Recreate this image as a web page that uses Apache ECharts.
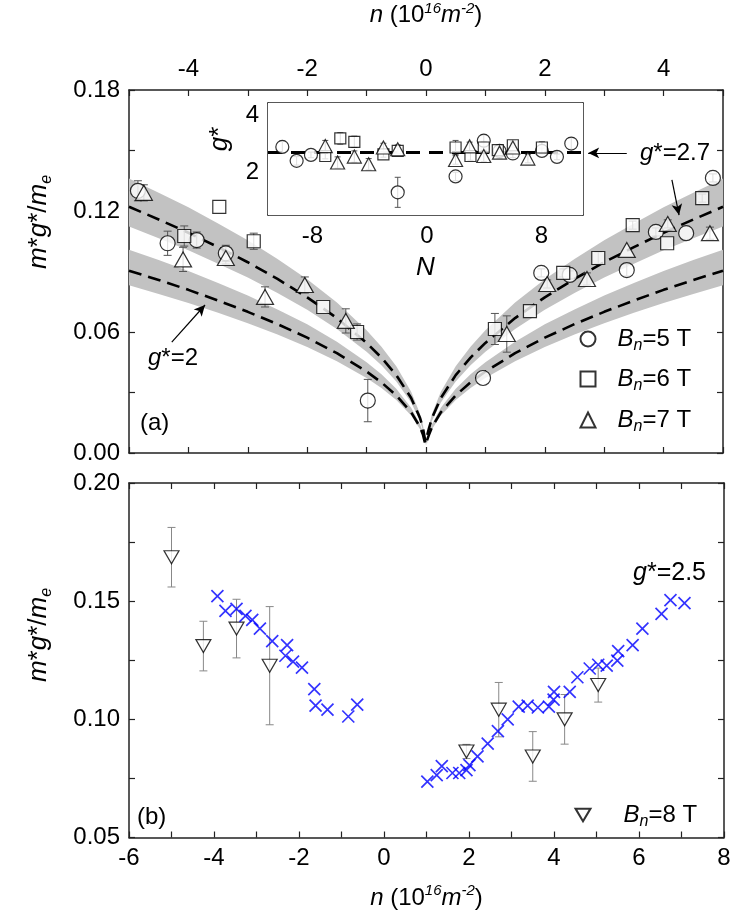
<!DOCTYPE html>
<html><head><meta charset="utf-8">
<script src="https://cdn.jsdelivr.net/npm/echarts@6/dist/echarts.min.js"></script>
<style>html,body{margin:0;padding:0;background:#fff}#c{width:747px;height:911px}</style>
</head><body><div id="c"></div>
<script>
// ---------------- DATA ----------------
// tick labels / tick positions
const topXLabels = [-4, -2, 0, 2, 4];
const topXTicks = [-5, -4, -3, -2, -1, 0, 1, 2, 3, 4, 5];
const topYLabels = [0, 0.06, 0.12, 0.18];
const topYTicks = [0, 0.03, 0.06, 0.09, 0.12, 0.15, 0.18];
const insetXLabels = [-8, 0, 8];
const insetXTicks = [-8, -4, 0, 4, 8];
const insetYLabels = [2, 4];
const insetYTicks = [1, 2, 3, 4];
const botXLabels = [-6, -4, -2, 0, 2, 4, 6, 8];
const botXTicks = [-6, -5, -4, -3, -2, -1, 0, 1, 2, 3, 4, 5, 6, 7, 8];
const botYLabels = [0.05, 0.10, 0.15, 0.20];
const botYTicks = [0.05, 0.075, 0.10, 0.125, 0.15, 0.175, 0.20];

// model curves, |n| in 1e16 m^-2
const curveN   = [0.01, 0.05, 0.1, 0.25, 0.5, 0.75, 1, 1.5, 2, 2.5, 3, 3.5, 4, 4.5, 5];
const g27Curve = [0.0055, 0.0122, 0.0173, 0.0273, 0.0386, 0.0473, 0.0546, 0.0669, 0.0772, 0.0863, 0.0946, 0.1021, 0.1092, 0.1158, 0.1221];
const g27Lo    = [0.0051, 0.0112, 0.0159, 0.0251, 0.0355, 0.0435, 0.0502, 0.0615, 0.0710, 0.0794, 0.0870, 0.0939, 0.1005, 0.1065, 0.1123];
const g27Hi    = [0.0061, 0.0136, 0.0193, 0.0304, 0.0430, 0.0527, 0.0609, 0.0746, 0.0861, 0.0962, 0.1055, 0.1138, 0.1218, 0.1291, 0.1361];
const g2Curve  = [0.0041, 0.0090, 0.0128, 0.0202, 0.0286, 0.0350, 0.0404, 0.0495, 0.0572, 0.0639, 0.0700, 0.0756, 0.0809, 0.0858, 0.0904];
const g2Lo     = [0.0038, 0.0083, 0.0118, 0.0186, 0.0263, 0.0322, 0.0372, 0.0455, 0.0526, 0.0588, 0.0644, 0.0696, 0.0744, 0.0789, 0.0832];
const g2Hi     = [0.0046, 0.0100, 0.0143, 0.0225, 0.0319, 0.0390, 0.0450, 0.0552, 0.0638, 0.0712, 0.0781, 0.0843, 0.0902, 0.0957, 0.1008];

// panel (a): [n, m*g*/me, error]
const b5Top = [[-4.85,0.130,0.005],[-4.35,0.104,0.006],[-3.86,0.1056,0.004],[-3.37,0.099,0.004],[-0.98,0.026,0.0105],
  [0.96,0.0372,0],[1.94,0.0893,0.002],[2.42,0.0883,0.002],[3.38,0.0907,0.003],[3.87,0.1096,0.002],[4.38,0.109,0],[4.83,0.1364,0.002]];
const b6Top = [[-4.07,0.1076,0.005],[-3.48,0.122,0],[-2.9,0.105,0.004],[-1.73,0.0724,0],[-1.16,0.060,0.004],
  [1.16,0.0615,0.0077],[1.75,0.0704,0],[2.31,0.0893,0.002],[2.9,0.0967,0.003],[3.48,0.113,0.002],[4.06,0.104,0],[4.65,0.1264,0.002]];
const b7Top = [[-4.75,0.129,0.004],[-4.09,0.096,0.006],[-3.37,0.0967,0.003],[-2.71,0.0774,0.005],[-2.04,0.0833,0.004],[-1.35,0.0655,0.006],
  [1.36,0.059,0.009],[2.04,0.0838,0.002],[2.71,0.0863,0.003],[3.38,0.1007,0],[4.07,0.1136,0.002],[4.78,0.109,0.003]];

// inset: [N, g*, error]
const in5 = [[-10.1,2.90,0.2],[-9.1,2.41,0.15],[-8.1,2.62,0.1],[-2.04,1.30,0.53],[2.0,1.86,0.15],[3.97,3.12,0.2],
  [5.07,2.76,0.1],[6.0,2.67,0.15],[8.03,2.76,0.1],[9.08,2.55,0.1],[10.08,3.02,0.2]];
const in6 = [[-7.1,2.58,0.1],[-6.05,3.2,0.2],[-5.07,3.08,0.2],[-3.04,2.64,0.1],[-2.04,2.76,0.1],[2.0,2.88,0.25],
  [3.04,2.58,0.15],[3.97,2.88,0.2],[4.95,2.79,0.1],[6.0,2.96,0.15],[8.03,2.88,0.2]];
const in7 = [[-7.1,2.93,0.2],[-6.24,2.35,0.2],[-5.07,2.56,0.2],[-4.07,2.29,0.2],[-3.04,2.88,0.15],[-2.04,2.82,0.15],
  [2.0,2.44,0.15],[2.98,2.92,0.15],[3.97,2.58,0.2],[5.07,2.7,0.2],[6.0,2.88,0.15],[7.05,2.49,0.15]];
const insetGLine = 2.7;
const insetNRange = [-11.1, 10.9];

// panel (b)
const b8Bot = [[-5.0,0.1686,0.0126],[-4.25,0.131,0.0105],[-3.47,0.1384,0.0124],[-2.69,0.1227,0.025],
  [1.94,0.0864,0.003],[2.7,0.1041,0.0115],[3.5,0.0843,0.0105],[4.25,0.100,0.0105],[5.04,0.1145,0.0072]];
const g25Left = [[-3.92,0.1521],[-3.73,0.1459],[-3.47,0.1467],[-3.26,0.1438],[-3.1,0.1421],[-2.92,0.1384],[-2.63,0.1331],
  [-2.28,0.1314],[-2.32,0.1269],[-2.14,0.1244],[-1.93,0.1219],[-1.64,0.1128],[-1.61,0.1058],[-1.33,0.1041],[-0.84,0.1012],[-0.63,0.1062]];
const g25Right = [[1.02,0.0736],[1.24,0.0764],[1.36,0.0802],[1.61,0.0773],[1.77,0.0773],[1.94,0.0785],[2.01,0.0806],[2.2,0.0843],
  [2.44,0.0897],[2.68,0.0950],[2.91,0.1000],[3.17,0.1054],[3.38,0.1058],[3.62,0.1050],[3.88,0.1054],[3.99,0.1083],[4.0,0.1116],
  [4.37,0.1116],[4.55,0.1178],[4.84,0.1215],[5.04,0.1231],[5.24,0.1227],[5.49,0.1248],[5.51,0.1289],[5.85,0.1314],[6.08,0.1384],
  [6.53,0.1446],[6.74,0.1504],[7.07,0.1492]];

// annotation arrows in data coordinates of panel (a): [from, to]
const arrowInset = [[3.38,0.1488],[2.73,0.1488]];
const arrowG27   = [[4.14,0.1354],[4.26,0.118]];
const arrowG2    = [[-4.28,0.055],[-3.72,0.0734]];

// ---------------- STYLE / BUILD ----------------
const FONT = "'Liberation Sans', Arial, Helvetica, sans-serif";
const AX = '#222';
const chart = echarts.init(document.getElementById('c'), null, {renderer:'canvas'});

function mirror(nArr, vArr){
  const out = [];
  for (let i = nArr.length-1; i >= 0; i--) out.push([-nArr[i], vArr[i]]);
  for (let i = 0; i < nArr.length; i++) out.push([nArr[i], vArr[i]]);
  return out;
}
function bandSeries(lo, hi){
  return {
    type:'custom', xAxisIndex:0, yAxisIndex:0, z:1, silent:true, clip:true,
    data: curveN.map((n,i)=>[n, lo[i], hi[i]]),
    encode:{x:0, y:[1,2]},
    renderItem: function(params, api){
      if (params.dataIndex !== 0) return null;
      const children = [];
      [1,-1].forEach(sg=>{
        const pts = [];
        for (let i=0;i<curveN.length;i++) pts.push(api.coord([sg*curveN[i], hi[i]]));
        for (let i=curveN.length-1;i>=0;i--) pts.push(api.coord([sg*curveN[i], lo[i]]));
        children.push({type:'polygon', shape:{points:pts}, style:{fill:'#c2c2c2'}});
      });
      return {type:'group', children};
    }
  };
}
function errSeries(data, xi, yi, color, cap){
  return {
    type:'custom', xAxisIndex:xi, yAxisIndex:yi, z:3, silent:true,
    data: data, encode:{x:0, y:1},
    renderItem: function(params, api){
      const x = api.value(0), y = api.value(1), e = api.value(2);
      if (!e) return null;
      const t = api.coord([x, y+e]), b = api.coord([x, y-e]);
      const st = {stroke:color, lineWidth:1};
      return {type:'group', children:[
        {type:'line', shape:{x1:t[0],y1:t[1],x2:b[0],y2:b[1]}, style:st},
        {type:'line', shape:{x1:t[0]-cap,y1:t[1],x2:t[0]+cap,y2:t[1]}, style:st},
        {type:'line', shape:{x1:b[0]-cap,y1:b[1],x2:b[0]+cap,y2:b[1]}, style:st}
      ]};
    }
  };
}
const openStyle = {color:'#fff', borderColor:'#000', borderWidth:1.2};
function scatter(name, data, xi, yi, symbol, size){
  return {type:'scatter', name, xAxisIndex:xi, yAxisIndex:yi, z:4, symbol, symbolSize:size,
    data: data.map(d=>[d[0], d[1]]), itemStyle: openStyle, emphasis:{disabled:true}};
}
function xAxis(grid, pos, min, max, ticks, labels, extra){
  return Object.assign({
    type:'value', gridIndex:grid, position:pos, min, max,
    axisLine:{show:true, onZero:false, lineStyle:{color:AX, width:1.5}},
    axisTick:{show:true, inside:true, length:6, customValues:ticks, lineStyle:{color:AX, width:1.2}},
    axisLabel: labels ? {show:true, customValues:labels, fontFamily:FONT, fontSize:24, color:'#000', margin:9} : {show:false},
    splitLine:{show:false}
  }, extra||{});
}
function yAxis(grid, pos, min, max, ticks, labels, fmt, extra){
  return Object.assign({
    type:'value', gridIndex:grid, position:pos, min, max,
    axisLine:{show:true, onZero:false, lineStyle:{color:AX, width:1.5}},
    axisTick:{show:true, inside:true, length:6, customValues:ticks, lineStyle:{color:AX, width:1.2}},
    axisLabel: labels ? {show:true, customValues:labels, formatter:fmt, fontFamily:FONT, fontSize:24, color:'#000', margin:9} : {show:false},
    splitLine:{show:false}
  }, extra||{});
}
const nameRich = {
  i:{fontFamily:FONT, fontSize:24, fontStyle:'italic', color:'#000'},
  r:{fontFamily:FONT, fontSize:24, color:'#000'},
  sup:{fontFamily:FONT, fontSize:15, fontStyle:'italic', color:'#000', padding:[0,0,14,0]},
  sub:{fontFamily:FONT, fontSize:15, fontStyle:'italic', color:'#000', padding:[14,0,0,0]}
};
const yRich = {
  i:{fontFamily:FONT, fontSize:26, fontStyle:'italic', color:'#000'},
  r:{fontFamily:FONT, fontSize:26, color:'#000'},
  sub:{fontFamily:FONT, fontSize:16, fontStyle:'italic', color:'#000', padding:[15,0,0,0]}
};
const nTitle = '{i|n}{r| (10}{sup|16}{i|m}{sup|-2}{r|)}';
const fmt2 = v => v.toFixed(2);

function legendFmt(name){ return '{i|B}{s|n}{r|' + name.slice(2) + '}'; }
function legendRich(gap){
  return {
    i:{fontFamily:FONT, fontSize:24, fontStyle:'italic', color:'#000', padding:[0,0,0,gap]},
    s:{fontFamily:FONT, fontSize:16, fontStyle:'italic', color:'#000', padding:[14,0,0,0]},
    r:{fontFamily:FONT, fontSize:24, color:'#000'}
  };
}
function legend(name, left, top, gap){
  return {data:[name], left, top, orient:'vertical', itemWidth:15, itemHeight:15, selectedMode:false,
    padding:0, formatter:legendFmt, textStyle:{rich:legendRich(gap)}};
}
function arrowLine(a){
  return [{coord:a[0], symbol:'none'}, {coord:a[1], symbol:'arrow', symbolSize:[8,11]}];
}
const downTri = 'path://M0,0L20,0L10,17Z';
const cross = 'path://M0,0L10,10M0,10L10,0';

const option = {
  animation:false,
  backgroundColor:'#fff',
  grid:[
    {left:129, top:90, width:594, height:363},
    {left:268, top:103, width:315, height:112, show:true, backgroundColor:'#fff', borderWidth:0, z:5},
    {left:129, top:483, width:595, height:363}
  ],
  xAxis:[
    xAxis(0,'bottom',-5,5,topXTicks,null),
    xAxis(0,'top',-5,5,topXTicks,topXLabels,{name:nTitle, nameLocation:'middle', nameGap:60, nameTextStyle:{rich:nameRich}}),
    xAxis(1,'bottom',insetNRange[0],insetNRange[1],insetXTicks,insetXLabels,{name:'{i|N}', nameLocation:'middle', nameGap:40, nameTextStyle:{rich:{i:{fontFamily:FONT,fontSize:26,fontStyle:'italic',color:'#000'}}}}),
    xAxis(1,'top',insetNRange[0],insetNRange[1],insetXTicks,null),
    xAxis(2,'bottom',-6,8,botXTicks,botXLabels,{name:nTitle, nameLocation:'middle', nameGap:46, nameTextStyle:{rich:nameRich}}),
    xAxis(2,'top',-6,8,botXTicks,null)
  ],
  yAxis:[
    yAxis(0,'left',0,0.18,topYTicks,topYLabels,fmt2),
    yAxis(0,'right',0,0.18,topYTicks,null),
    yAxis(1,'left',0.5,4.45,insetYTicks,insetYLabels,v=>String(v)),
    yAxis(1,'right',0.5,4.45,insetYTicks,null),
    yAxis(2,'left',0.05,0.20,botYTicks,botYLabels,fmt2),
    yAxis(2,'right',0.05,0.20,botYTicks,null)
  ],
  legend:[
    legend('Bn=5 T', 579.5, 327, 17),
    legend('Bn=6 T', 579.5, 367, 17),
    legend('Bn=7 T', 579.5, 408, 17),
    legend('Bn=8 T', 574.5, 803, 28)
  ],
  series:[
    bandSeries(g27Lo, g27Hi),
    bandSeries(g2Lo, g2Hi),
    {type:'line', name:'g*=2.7 curve', xAxisIndex:0, yAxisIndex:0, z:2, data:mirror(curveN,g27Curve), showSymbol:false, silent:true,
      lineStyle:{color:'#000', width:2.6, type:[13,7]},
      markLine:{silent:true, symbol:['none','arrow'], label:{show:false}, lineStyle:{color:'#000', width:1.2, type:'solid'},
        data:[arrowLine(arrowInset), arrowLine(arrowG27), arrowLine(arrowG2)]}},
    {type:'line', name:'g*=2 curve', xAxisIndex:0, yAxisIndex:0, z:2, data:mirror(curveN,g2Curve), showSymbol:false, silent:true,
      lineStyle:{color:'#000', width:2.6, type:[13,7]}},
    errSeries(b5Top,0,0,'#555',4), errSeries(b6Top,0,0,'#555',4), errSeries(b7Top,0,0,'#555',4),
    scatter('Bn=5 T', b5Top, 0, 0, 'circle', 15),
    scatter('Bn=6 T', b6Top, 0, 0, 'rect', 13),
    scatter('Bn=7 T', b7Top, 0, 0, 'triangle', [17,15]),
    // inset
    {type:'line', name:'inset g*', xAxisIndex:2, yAxisIndex:2, z:6, data:[[insetNRange[0],insetGLine],[insetNRange[1],insetGLine]],
      showSymbol:false, silent:true, lineStyle:{color:'#000', width:3, type:[14,9]}},
    Object.assign(errSeries(in5,2,2,'#555',3),{z:7}), Object.assign(errSeries(in6,2,2,'#555',3),{z:7}), Object.assign(errSeries(in7,2,2,'#555',3),{z:7}),
    Object.assign(scatter('inset 5', in5, 2, 2, 'circle', 13),{z:8}),
    Object.assign(scatter('inset 6', in6, 2, 2, 'rect', 11),{z:8}),
    Object.assign(scatter('inset 7', in7, 2, 2, 'triangle', [14,13]),{z:8}),
    // panel b
    errSeries(b8Bot,4,4,'#888',4),
    scatter('Bn=8 T', b8Bot, 4, 4, downTri, [15,13]),
    {type:'scatter', name:'g*=2.5', xAxisIndex:4, yAxisIndex:4, z:5, symbol:cross, symbolSize:12,
      data:g25Left.concat(g25Right), itemStyle:{color:'rgba(0,0,0,0)', borderColor:'#0000ff', borderWidth:1.7}, emphasis:{disabled:true}}
  ],
  graphic:[
    {type:'text', x:640, y:153, z:10, style:{text:'{i|g}{r|*=2.7}', rich:{i:nameRich.i, r:nameRich.r}, align:'left', verticalAlign:'middle'}},
    {type:'text', x:148, y:358, z:10, style:{text:'{i|g}{r|*=2}', rich:{i:nameRich.i, r:nameRich.r}, align:'left', verticalAlign:'middle'}},
    {type:'text', x:140, y:423, z:10, style:{text:'(a)', font:'24px ' + FONT, fill:'#000', align:'left', verticalAlign:'middle'}},
    {type:'text', x:137, y:817, z:10, style:{text:'(b)', font:'24px ' + FONT, fill:'#000', align:'left', verticalAlign:'middle'}},
    {type:'text', x:633, y:573, z:10, style:{text:'{i|g}{r|*=2.5}', rich:{i:{fontFamily:FONT,fontSize:25,fontStyle:'italic',color:'#0000ff'}, r:{fontFamily:FONT,fontSize:25,color:'#0000ff'}}, align:'left', verticalAlign:'middle'}},
    {type:'text', x:39, y:222, rotation:Math.PI/2, z:10, style:{text:'{i|m}{r|*}{i|g}{r|*/}{i|m}{sub|e}', rich:yRich, align:'center', verticalAlign:'middle'}},
    {type:'text', x:39, y:635, rotation:Math.PI/2, z:10, style:{text:'{i|m}{r|*}{i|g}{r|*/}{i|m}{sub|e}', rich:yRich, align:'center', verticalAlign:'middle'}},
    {type:'text', x:220, y:139, rotation:Math.PI/2, z:10, style:{text:'{i|g}{r|*}', rich:{i:{fontFamily:FONT,fontSize:26,fontStyle:'italic',color:'#000'}, r:{fontFamily:FONT,fontSize:26,color:'#000'}}, align:'center', verticalAlign:'middle'}}
  ]
};
chart.setOption(option);
</script>
</body></html>
